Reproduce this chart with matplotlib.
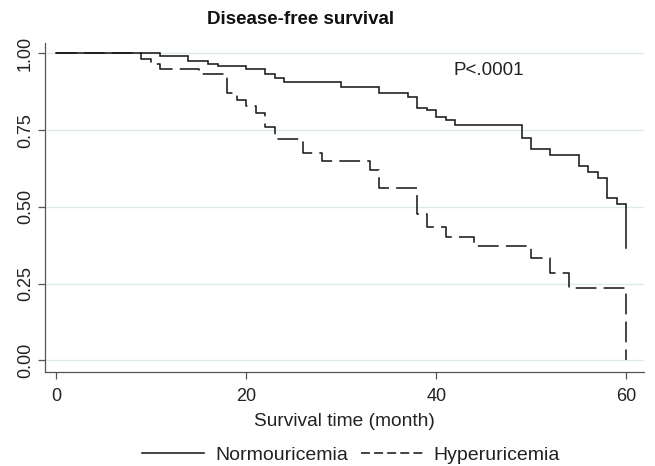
import matplotlib
matplotlib.use("Agg")
import matplotlib.pyplot as plt
from matplotlib.lines import Line2D

plt.rcParams['font.family'] = ['Liberation Sans', 'DejaVu Sans']

normo_time = [0, 10.9, 13.9, 16.0, 17.0, 20.0, 22.0, 23.0, 24.0, 30.0, 34.0, 37.0, 38.0,
              39.0, 40.0, 41.0, 42.0, 49.0, 50.0, 52.0, 55.0, 56.0, 57.0, 58.0, 59.0, 60.0]
normo_surv = [1.0, 0.991, 0.976, 0.967, 0.959, 0.948, 0.932, 0.921, 0.908, 0.890, 0.872, 0.859, 0.823,
              0.816, 0.792, 0.783, 0.767, 0.724, 0.690, 0.669, 0.634, 0.613, 0.593, 0.528, 0.508, 0.365]

hyper_time = [0, 9.0, 10.0, 11.0, 15.0, 18.0, 19.0, 20.0, 21.0, 22.0, 23.0, 26.0, 28.0, 33.0,
              34.0, 38.0, 39.0, 41.0, 44.0, 50.0, 52.0, 54.0, 60.0]
hyper_surv = [1.0, 0.982, 0.966, 0.948, 0.932, 0.872, 0.848, 0.829, 0.807, 0.761, 0.720, 0.675, 0.650, 0.620,
              0.561, 0.476, 0.436, 0.403, 0.374, 0.332, 0.284, 0.237, 0.0]

xticks = [0, 20, 40, 60]
yticks = [0.0, 0.25, 0.50, 0.75, 1.00]
ytick_labels = ["0.00", "0.25", "0.50", "0.75", "1.00"]

fig = plt.figure(figsize=(6.55, 4.66), dpi=100)
ax = fig.add_axes([0.0687, 0.2024, 0.9145, 0.7053])

lc = '#1a1a1a'
ax.step(normo_time, normo_surv, where='post', color=lc, lw=1.15, solid_joinstyle='miter')
ax.step(hyper_time, hyper_surv, where='post', color=lc, lw=1.15, dashes=(13, 4.5))

ax.set_xlim(-1.14, 61.84)
ax.set_ylim(-0.037, 1.034)

for y in yticks:
    ax.axhline(y, color='#dce9ee', lw=0.9, zorder=0)

ax.set_xticks(xticks)
ax.set_yticks(yticks)
ax.set_yticklabels(ytick_labels, rotation=90, va='center')
ax.tick_params(axis='both', direction='out', length=5, width=0.9, color='#555555',
               labelsize=13, labelcolor='#222222')
ax.tick_params(axis='y', pad=3)
ax.tick_params(axis='x', pad=6.5)

for s in ['top', 'right']:
    ax.spines[s].set_visible(False)
for s in ['left', 'bottom']:
    ax.spines[s].set_color('#555555')
    ax.spines[s].set_linewidth(0.9)

ax.set_xlabel('Survival time (month)', fontsize=13.8, color='#222222', labelpad=6)
ax.text(41.8, 0.946, 'P<.0001', fontsize=13.5, color='#222222', va='center', ha='left')

fig.text(301 / 655, 1 - 19 / 466, 'Disease-free survival', fontsize=13.5, fontweight='bold',
         ha='center', va='center', color='#111111')

handles = [Line2D([], [], color=lc, lw=1.15),
           Line2D([], [], color=lc, lw=1.15, dashes=(5.6, 2.6))]
fig.legend(handles, ['Normouricemia', 'Hyperuricemia'], loc='center',
           bbox_to_anchor=(351 / 655, 1 - 455 / 466), ncol=2, frameon=False,
           fontsize=14, handlelength=3.2, handletextpad=0.55, columnspacing=0.65,
           labelcolor='#222222')

fig.savefig('out.png', dpi=100)
